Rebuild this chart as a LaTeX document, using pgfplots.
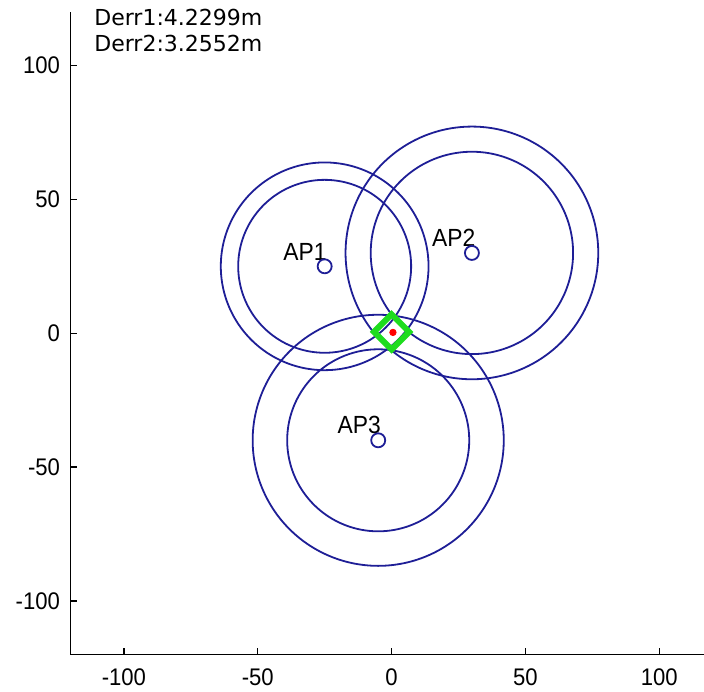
\documentclass[border=0pt]{standalone}
\usepackage{fontspec}
\usepackage{pgfplots}
\pgfplotsset{compat=1.18}
\setmainfont{Liberation Sans}
\newfontfamily\tickfont[FakeStretch=0.92]{Liberation Sans}
\newfontfamily\notefont{DejaVu Sans}

\definecolor{ringblue}{RGB}{30,30,150}
\definecolor{estgreen}{RGB}{30,220,30}

% one ring of radius #3 around the access point (#1,#2)
\newcommand{\ring}[3]{%
  \addplot[ringblue, line width=0.9bp, domain=0:360, samples=241, smooth=false]
    ({#1+#3*cos(x)}, {#2+#3*sin(x)});%
}

\begin{document}
\begin{tikzpicture}
\begin{axis}[
  name=ax,
  scale only axis,
  width=316.6bp, height=321bp,
  xmin=-120, xmax=116.7,
  ymin=-120, ymax=120,
  axis x line*=bottom,
  axis y line*=left,
  axis line style={black, line width=0.8bp},
  tick align=inside,
  xtick align=inside,
  ytick align=inside,
  major tick length=3.2bp,
  tick style={black, line width=0.7bp},
  xtick={-100,-50,0,50,100},
  ytick={-100,-50,0,50,100},
  xticklabels={-100,-50,0,50,100},
  yticklabels={-100,-50,0,50,100},
  ticklabel style={font=\tickfont\fontsize{12bp}{14bp}\selectfont, inner sep=0pt},
  xticklabel style={yshift=-7bp},
  yticklabel style={xshift=-5bp},
  clip=false,
]
  % ranging circles: inner and outer bound for each access point
  \ring{-25}{25}{32.3}
  \ring{-25}{25}{38.8}
  \ring{30}{30}{37.8}
  \ring{30}{30}{47.2}
  \ring{-5}{-40}{34.0}
  \ring{-5}{-40}{46.9}

  % access points
  \addplot[only marks, mark=o, mark size=3.5bp, ringblue, mark options={line width=0.9bp}]
    coordinates {(-25,25) (30,30) (-5,-40)};

  % estimated position
  \addplot[only marks, mark=square, mark size=6.2bp,
    mark options={draw=estgreen, rotate=45, line width=3bp}]
    coordinates {(0,0.5)};
  % true position
  \addplot[only marks, mark=*, mark size=1.6bp, red]
    coordinates {(0.5,0.3)};

  \node[anchor=west, inner sep=0pt, font=\tickfont\fontsize{12.4bp}{14bp}\selectfont] at (axis cs:-40.6,30.4) {AP1};
  \node[anchor=west, inner sep=0pt, font=\tickfont\fontsize{12.4bp}{14bp}\selectfont] at (axis cs:15.0,35.5) {AP2};
  \node[anchor=west, inner sep=0pt, font=\tickfont\fontsize{12.4bp}{14bp}\selectfont] at (axis cs:-20.3,-34.3) {AP3};

  \node[anchor=base west, inner sep=0pt, font=\notefont\fontsize{11bp}{13bp}\selectfont] at (axis cs:-111.2,115.1) {Derr1:4.2299m};
  \node[anchor=base west, inner sep=0pt, font=\notefont\fontsize{11bp}{13bp}\selectfont] at (axis cs:-111.2,105.4) {Derr2:3.2552m};
\end{axis}
\pgfresetboundingbox
\path ([xshift=-35.15bp,yshift=-18.5bp]ax.south west) rectangle ([yshift=6bp]ax.north east);
\end{tikzpicture}
\end{document}
